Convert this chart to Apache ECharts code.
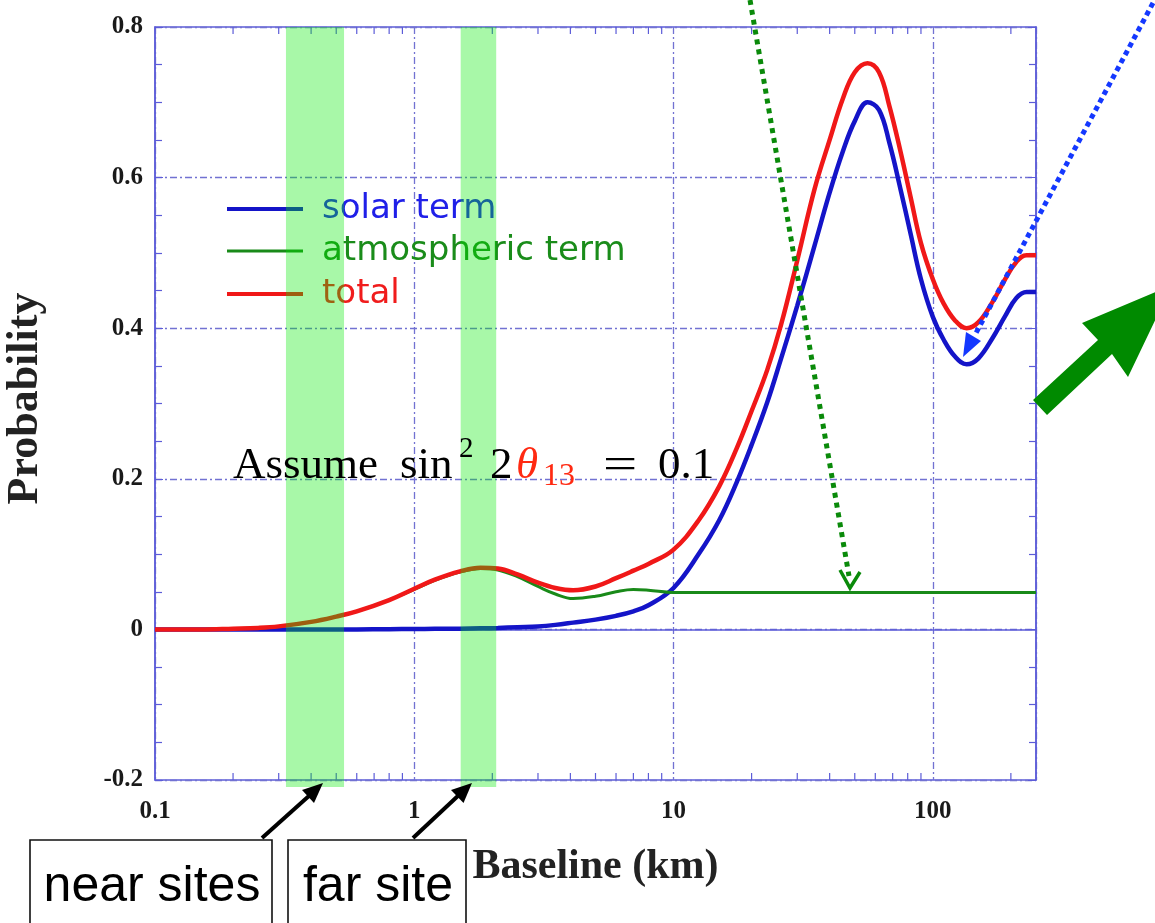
<!DOCTYPE html>
<html><head><meta charset="utf-8">
<script src="https://cdn.jsdelivr.net/npm/echarts@6/dist/echarts.min.js"></script>
<style>html,body{margin:0;padding:0;background:#fff}#c{width:1155px;height:923px}</style>
</head><body><div id="c"></div>
<script>
// ---- data ----
const baselineKm = [0.1,0.15,0.2,0.25,0.3,0.4,0.5,0.6,0.8,1.0,1.2,1.5,1.8,2.1,2.5,3.0,3.5,4.1,5,6,7,8,10,12.5,15,17.5,20,23,26,30,35,40,45,50,56,62,68,75,82,90,100,110,122,135,150,170,190,210,230,250];
const solarTerm = [0,0,0,0,0,0,0,0,0.0003,0.0005,0.0008,0.001,0.0015,0.002,0.003,0.004,0.006,0.009,0.013,0.018,0.024,0.032,0.055,0.10,0.145,0.195,0.245,0.302,0.36,0.43,0.51,0.58,0.635,0.675,0.70,0.69,0.646,0.585,0.526,0.465,0.415,0.385,0.362,0.352,0.36,0.387,0.416,0.44,0.448,0.448];
const atmosphericTerm = [0,0,0.001,0.002,0.004,0.01,0.017,0.024,0.039,0.053,0.065,0.076,0.081,0.079,0.07,0.057,0.047,0.041,0.044,0.05,0.053,0.052,0.049,0.049,0.049,0.049,0.049,0.049,0.049,0.049,0.049,0.049,0.049,0.049,0.049,0.049,0.049,0.049,0.049,0.049,0.049,0.049,0.049,0.049,0.049,0.049,0.049,0.049,0.049,0.049];
const totalProb = [0,0,0.001,0.002,0.004,0.01,0.017,0.024,0.039,0.054,0.066,0.077,0.082,0.081,0.073,0.062,0.055,0.052,0.057,0.068,0.078,0.087,0.106,0.145,0.19,0.24,0.29,0.345,0.405,0.49,0.585,0.65,0.705,0.74,0.752,0.74,0.695,0.635,0.575,0.513,0.465,0.433,0.41,0.40,0.408,0.435,0.465,0.488,0.497,0.497];
const seriesNames = ['solar term','atmospheric term','total'];
const siteBands = [[0.32,0.536],[1.51,2.07]];   // near sites, far site (km)
const xTickLabels = ['0.1','1','10','100'];
const yTickLabels = ['-0.2','0','0.2','0.4','0.6','0.8'];
const xMinorTicks = [0.2,0.3,0.4,0.5,0.6,0.7,0.8,0.9,2,3,4,5,6,7,8,9,20,30,40,50,60,70,80,90,200];
const X_MIN = 0.1, X_MAX = 250, Y_MIN = -0.2, Y_MAX = 0.8;

const pairs = ys => baselineKm.map((x,i)=>[x, ys[i]]);
const frameColor = '#5c5cd8';
const gridDash = {color:'#7272d2', width:1.3, type:[7,3,2,3]};
const serif = 'Liberation Serif';

const chart = echarts.init(document.getElementById('c'), null, {renderer:'canvas'});
const legendBase = (name, top, color) => ({
  data:[name], left:227, top:top, orient:'vertical', padding:0, icon:'rect',
  itemWidth:76, itemHeight: name==='atmospheric term'?3:4, selectedMode:false,
  textStyle:{color:color, fontSize:34, fontFamily:'DejaVu Sans', padding:[0,0,0,14]}
});
const option = {
  backgroundColor:'#fff',
  animation:false,
  grid:{left:155, right:119, top:27, bottom:143, show:true, borderColor:frameColor, borderWidth:1.5, outerBoundsMode:'none'},
  legend:[
    legendBase(seriesNames[0], 192, '#2020e8'),
    legendBase(seriesNames[1], 234, '#1a8c1a'),
    legendBase(seriesNames[2], 277, '#f01c1c')
  ],
  xAxis:{
    type:'log', logBase:10, min:X_MIN, max:X_MAX,
    name:'Baseline (km)', nameLocation:'middle', nameGap:66,
    nameTextStyle:{fontFamily:serif, fontSize:42, fontWeight:'bold', color:'#222'},
    axisLine:{show:true, lineStyle:{color:frameColor, width:1.5}},
    axisTick:{show:false},
    axisLabel:{fontFamily:serif, fontSize:25, fontWeight:'bold', color:'#1a1a1a', margin:19, showMaxLabel:false,
      formatter:v=>{const l=Math.log10(v), e=Math.round(l); return Math.abs(l-e)<1e-6 ? (xTickLabels[e+1]||'') : '';}},
    splitLine:{show:true, lineStyle:gridDash}
  },
  yAxis:[{
    type:'value', min:Y_MIN, max:Y_MAX, interval:0.2,
    name:'Probability', nameLocation:'middle', nameGap:107,
    nameTextStyle:{fontFamily:serif, fontSize:44, fontWeight:'bold', color:'#222', padding:[0,0,0,10]},
    axisLine:{show:true, lineStyle:{color:frameColor, width:1.5}},
    axisTick:{show:true, inside:true, length:8, lineStyle:{color:frameColor}},
    minorTick:{show:true, splitNumber:4, length:7, lineStyle:{color:frameColor, width:1.2}},
    axisLabel:{fontFamily:serif, fontSize:25, fontWeight:'bold', color:'#1a1a1a', margin:12, formatter:(v,i)=>yTickLabels[i]},
    splitLine:{show:true, lineStyle:gridDash}
  },{
    type:'value', min:Y_MIN, max:Y_MAX, interval:0.2, position:'right',
    axisLine:{show:true, lineStyle:{color:frameColor, width:1.5}},
    axisTick:{show:true, inside:true, length:8, lineStyle:{color:frameColor}},
    minorTick:{show:true, splitNumber:4, length:7, lineStyle:{color:frameColor, width:1.2}},
    axisLabel:{show:false}, splitLine:{show:false}
  }],
  series:[
    {name:seriesNames[0], type:'line', data:pairs(solarTerm), showSymbol:false, smooth:0.4, color:'#1414c8', lineStyle:{width:4.5}, z:3},
    {name:seriesNames[1], type:'line', data:pairs(atmosphericTerm), showSymbol:false, smooth:0.4, color:'#198a19', lineStyle:{width:3}, z:4},
    {name:seriesNames[2], type:'line', data:pairs(totalProb), showSymbol:false, smooth:0.4, color:'#f01818', lineStyle:{width:4.5}, z:5},
    {type:'custom', silent:true, z:6, data:xMinorTicks.map(v=>[v,0]),
      renderItem:(p,api)=>{const v=api.value(0); const b=api.coord([v,Y_MIN]); const t=api.coord([v,Y_MAX]);
        return {type:'group', children:[
          {type:'line', shape:{x1:b[0],y1:b[1],x2:b[0],y2:b[1]-7}, style:{stroke:frameColor, lineWidth:1.2}},
          {type:'line', shape:{x1:t[0],y1:t[1],x2:t[0],y2:t[1]+7}, style:{stroke:frameColor, lineWidth:1.2}}]};}},
    {type:'custom', silent:true, z:10, data:siteBands,
      renderItem:(p,api)=>{const a=api.coord([api.value(0),Y_MAX]); const b=api.coord([api.value(1),Y_MIN]);
        return {type:'rect', shape:{x:a[0], y:a[1], width:b[0]-a[0], height:b[1]-a[1]+7}, style:{fill:'rgba(0,235,0,0.34)'}};}}
  ],
  graphic:[
    {type:'text', z:100, style:{text:'Assume', x:233, y:466, font:'45px "Liberation Serif"', fill:'#000', verticalAlign:'middle'}},
    {type:'text', z:100, style:{text:'sin', x:400, y:466, font:'45px "Liberation Serif"', fill:'#000', verticalAlign:'middle'}},
    {type:'text', z:100, style:{text:'2', x:459, y:449, font:'29px "Liberation Serif"', fill:'#000', verticalAlign:'middle'}},
    {type:'text', z:100, style:{text:'2', x:490, y:466, font:'45px "Liberation Serif"', fill:'#000', verticalAlign:'middle'}},
    {type:'text', z:100, style:{text:'θ', x:516, y:466, font:'italic 45px "Liberation Serif"', fill:'#ff2a12', verticalAlign:'middle'}},
    {type:'text', z:100, style:{text:'13', x:543, y:477, font:'32px "Liberation Serif"', fill:'#ff2a12', verticalAlign:'middle'}},
    {type:'text', z:100, x:603, scaleX:1.35, style:{text:'=', x:0, y:466, font:'45px "Liberation Serif"', fill:'#000', verticalAlign:'middle'}},
    {type:'text', z:100, style:{text:'0.1', x:658, y:466, font:'45px "Liberation Serif"', fill:'#000', verticalAlign:'middle'}},
    // dotted annotation arrows
    {type:'line', z:100, shape:{x1:750,y1:0,x2:849,y2:576}, style:{stroke:'#0a8a0a', lineWidth:5, lineDash:[5,5]}},
    {type:'polyline', z:100, shape:{points:[[840,570],[850,588],[860,572]]}, style:{stroke:'#0a8a0a', lineWidth:3.5, fill:null}},
    {type:'line', z:100, shape:{x1:1153,y1:3,x2:976,y2:333}, style:{stroke:'#1438ff', lineWidth:5, lineDash:[5,4]}},
    {type:'polygon', z:100, shape:{points:[[963,357],[966,332],[981,341]]}, style:{fill:'#1438ff'}},
    // big green arrow
    {type:'polygon', z:100, shape:{points:[[1033,400],[1098,340],[1082,323],[1172,285],[1128,377],[1112,354],[1047,415]]}, style:{fill:'#008a00'}},
    // site boxes
    {type:'rect', z:100, shape:{x:30,y:840,width:242,height:110}, style:{stroke:'#111', lineWidth:1.6, fill:'#fff'}},
    {type:'rect', z:100, shape:{x:288,y:840,width:178,height:110}, style:{stroke:'#111', lineWidth:1.6, fill:'#fff'}},
    {type:'text', z:101, style:{text:'near sites', x:152, y:887, font:'50px "Liberation Sans"', fill:'#000', align:'center', verticalAlign:'middle'}},
    {type:'text', z:101, style:{text:'far site', x:378, y:887, font:'50px "Liberation Sans"', fill:'#000', align:'center', verticalAlign:'middle'}},
    {type:'line', z:100, shape:{x1:262,y1:838,x2:310,y2:795}, style:{stroke:'#000', lineWidth:4}},
    {type:'polygon', z:100, shape:{points:[[323,783],[314,803],[302,790]]}, style:{fill:'#000'}},
    {type:'line', z:100, shape:{x1:413,y1:838,x2:460,y2:794}, style:{stroke:'#000', lineWidth:4}},
    {type:'polygon', z:100, shape:{points:[[472,783],[463.5,803],[451,790]]}, style:{fill:'#000'}}
  ]
};
chart.setOption(option);
</script></body></html>
